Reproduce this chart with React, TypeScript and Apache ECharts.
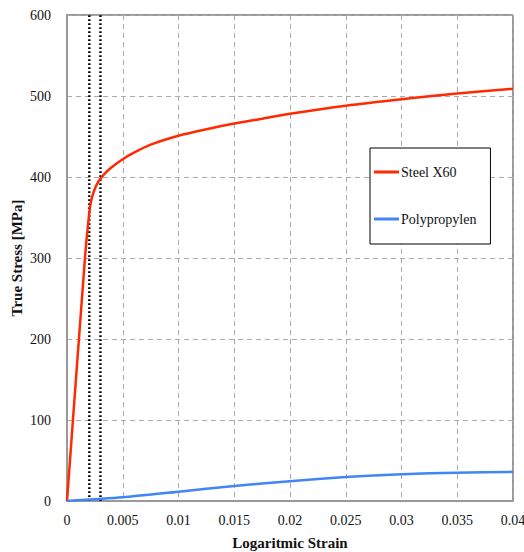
import React, { useEffect, useRef } from "react";
import * as echarts from "echarts";

const steelX60: [number, number][] = [
  [0, 0], [0.0016, 298], [0.0019, 343], [0.0021, 366], [0.0024, 382], [0.0028, 394],
  [0.0033, 403], [0.004, 412], [0.005, 422], [0.006, 430], [0.0075, 440], [0.01, 451],
  [0.0125, 459], [0.015, 466], [0.0175, 472], [0.02, 478], [0.025, 488], [0.03, 496],
  [0.035, 503], [0.04, 509],
];
const polypropylen: [number, number][] = [
  [0, 0], [0.005, 4.5], [0.01, 11.5], [0.015, 18.5], [0.02, 24.5], [0.025, 29.5],
  [0.03, 33], [0.035, 35], [0.04, 36],
];
const markerStrains = [0.002, 0.003];
const seriesNames = ["Steel X60", "Polypropylen"];

const FONT = "Liberation Serif";

export default function App() {
  const ref = useRef<HTMLDivElement>(null);
  useEffect(() => {
    if (!ref.current) return;
    const chart = echarts.init(ref.current, null, { renderer: "svg" });
    const markerSeries = markerStrains.map((s) => ({
      type: "line" as const,
      name: "marker" + s,
      data: [[s, 0], [s, 600]],
      symbol: "none",
      silent: true,
      lineStyle: { color: "#000", width: 2.4, type: [1.8, 2.2] },
      z: 3,
    }));
    chart.setOption({
      animation: false,
      textStyle: { fontFamily: FONT },
      grid: {
        left: 67, right: 11, top: 15, bottom: 51,
        containLabel: false,
        outerBoundsMode: "none",
        show: true, borderColor: "#333", borderWidth: 1, backgroundColor: "#fff",
      },
      legend: {
        data: seriesNames,
        orient: "vertical",
        left: 370,
        top: 148,
        padding: [17, 14, 18, 4],
        itemGap: 33,
        itemWidth: 25,
        itemHeight: 3,
        icon: "rect",
        borderColor: "#000",
        borderWidth: 1,
        borderRadius: 0,
        backgroundColor: "#fff",
        textStyle: { fontFamily: FONT, fontSize: 14, color: "#111", padding: [0, 0, 0, -3] },
      },
      xAxis: {
        type: "value",
        min: 0,
        max: 0.04,
        interval: 0.005,
        name: "Logaritmic Strain",
        nameLocation: "middle",
        nameGap: 34,
        nameTextStyle: { fontFamily: FONT, fontSize: 15, fontWeight: "bold", color: "#111" },
        axisLine: { lineStyle: { color: "#999", width: 2 } },
        axisTick: { show: false },
        axisLabel: { fontFamily: FONT, fontSize: 14, color: "#111", margin: 12 },
        splitLine: { lineStyle: { color: "#aaa", type: [5, 4], width: 1 } },
      },
      yAxis: {
        type: "value",
        min: 0,
        max: 600,
        interval: 100,
        name: "True Stress [MPa]",
        nameLocation: "middle",
        nameGap: 43,
        nameMoveOverlap: false,
        nameTextStyle: { fontFamily: FONT, fontSize: 15, fontWeight: "bold", color: "#111" },
        axisLine: { show: true, lineStyle: { color: "#999", width: 2 } },
        axisTick: { show: false },
        axisLabel: { fontFamily: FONT, fontSize: 14, color: "#111", margin: 16 },
        splitLine: { lineStyle: { color: "#aaa", type: [5, 4], width: 1 } },
      },
      series: [
        ...markerSeries,
        {
          type: "line",
          name: seriesNames[0],
          data: steelX60,
          symbol: "none",
          smooth: 0.25,
          lineStyle: { color: "#ff2a00", width: 2.5 },
          itemStyle: { color: "#ff2a00" },
          z: 4,
        },
        {
          type: "line",
          name: seriesNames[1],
          data: polypropylen,
          symbol: "none",
          smooth: 0.25,
          lineStyle: { color: "#4285f4", width: 2.5 },
          itemStyle: { color: "#4285f4" },
          z: 4,
        },
      ],
    });
    return () => chart.dispose();
  }, []);
  return <div ref={ref} style={{ width: 524, height: 552, position: "absolute", left: 0, top: 0 }} />;
}
